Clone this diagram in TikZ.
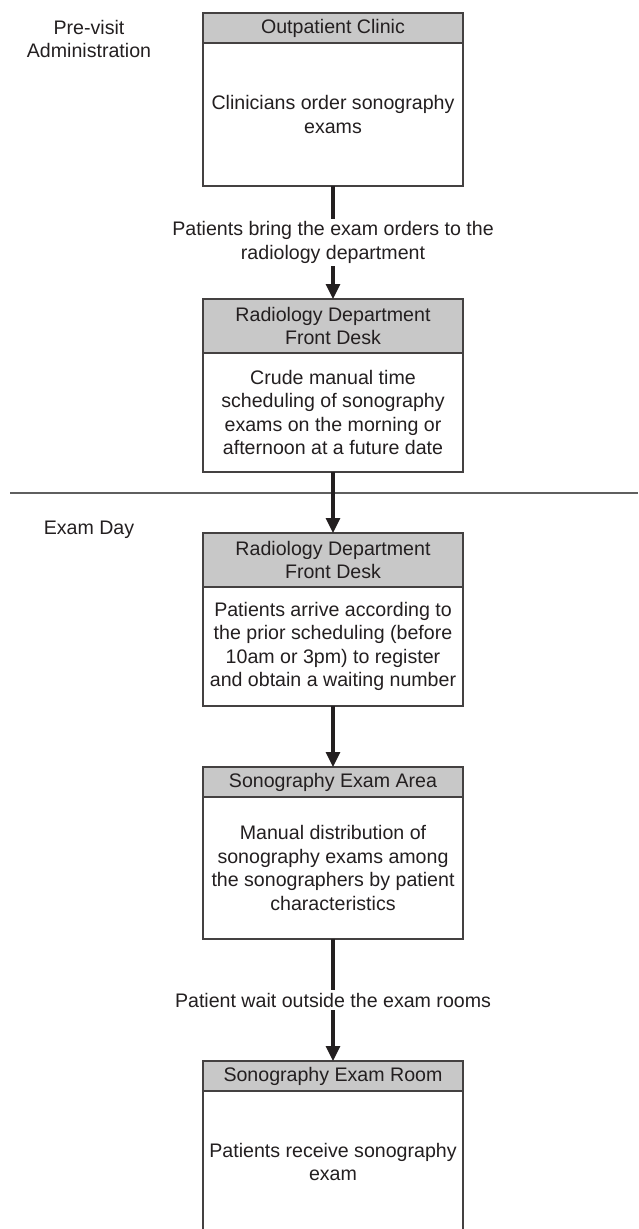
\documentclass[tikz,border=0pt]{standalone}
\usepackage{fontspec}
\setmainfont{Liberation Sans}
\usetikzlibrary{arrows.meta,positioning}

\definecolor{ink}{RGB}{35,31,32}
\definecolor{hdgray}{RGB}{200,200,200}
\definecolor{rulegray}{RGB}{95,95,95}

\begin{document}
\begin{tikzpicture}[x=1pt,y=-1pt,
  font=\fontsize{19.6}{23.6}\selectfont, text=ink,
  head/.style={draw=ink!85, line width=1.5pt, fill=hdgray, minimum width=260pt,
    align=center, inner sep=0pt, outer sep=0pt, anchor=north},
  body/.style={draw=ink!85, line width=1.5pt, fill=white, minimum width=260pt,
    align=center, inner sep=0pt, outer sep=0pt, below=0pt of #1},
  flow/.style={draw=ink, line width=3.2pt, -{Triangle[length=15pt,width=14pt]}},
  lbl/.style={fill=white, align=center, inner sep=3pt},
  side/.style={align=center}]
  \useasboundingbox (0,0) rectangle (638,1229);

  % phases
  \node[side] (previsit) at (89,39) {Pre-visit\\Administration};
  \node[side] (examday) at (89,530) {Exam Day};
  \coordinate (sepL) at (10,493);
  \coordinate (sepR) at (638,493);
  \draw[rulegray, line width=1.6pt] (sepL) -- (sepR);

  % steps
  \node[head, minimum height=30pt] (clinic) at (333,13) {Outpatient Clinic};
  \node[body=clinic, minimum height=143pt] (order) {Clinicians order sonography\\exams};

  \node[head, minimum height=54pt] (desk1) at (333,299) {Radiology Department\\Front Desk};
  \node[body=desk1, minimum height=119pt] (sched) {Crude manual time\\scheduling of sonography\\exams on the morning or\\afternoon at a future date};

  \node[head, minimum height=54pt] (desk2) at (333,533) {Radiology Department\\Front Desk};
  \node[body=desk2, minimum height=119pt] (arrive) {Patients arrive according to\\the prior scheduling (before\\10am or 3pm) to register\\and obtain a waiting number};

  \node[head, minimum height=30pt] (area) at (333,767) {Sonography Exam Area};
  \node[body=area, minimum height=142pt] (distr) {Manual distribution of\\sonography exams among\\the sonographers by patient\\characteristics};

  \node[head, minimum height=30pt] (room) at (333,1061) {Sonography Exam Room};
  \node[body=room, minimum height=142pt] (receive) {Patients receive sonography\\exam};

  % flow
  \draw[flow] (order) -- node[lbl] (bring) {Patients bring the exam orders to the\\radiology department} (desk1);
  \draw[flow] (sched) -- (desk2);
  \draw[flow] (arrive) -- (area);
  \draw[flow] (distr) -- node[lbl] (wait) {Patient wait outside the exam rooms} (room);
\end{tikzpicture}
\end{document}
